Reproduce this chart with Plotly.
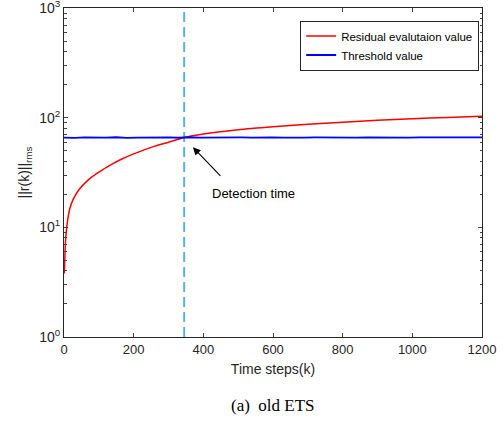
import plotly.graph_objects as go

# Residual evaluation value
k_res = [1, 3, 5, 8, 12, 18, 25, 32, 45, 60, 80, 100, 130, 166, 200, 261, 300, 345, 400, 500, 600, 700, 800, 900, 1000, 1100, 1200]
r_res = [3.8, 6.0, 8.0, 10.1, 12.5, 15.3, 17.6, 19.5, 22.5, 25.3, 28.8, 31.8, 36.5, 42.0, 46.8, 55.0, 59.8, 66.0, 71.0, 77.5, 82.5, 87.0, 91.0, 94.5, 98.0, 100.5, 103.0]

# Threshold value
k_thr = [0, 30, 60, 90, 120, 150, 180, 210, 240, 270, 300, 330, 360, 390, 420, 450, 480, 510, 540, 570, 600, 630, 660, 690, 720, 750, 780, 810, 840, 870, 900, 930, 960, 990, 1020, 1050, 1080, 1110, 1140, 1170, 1200]
r_thr = [65.8, 65.4, 66.1, 65.6, 65.9, 66.3, 65.5, 65.9, 66.2, 65.7, 66.0, 65.6, 66.3, 65.9, 66.1, 65.7, 66.2, 66.0, 65.8, 66.3, 66.0, 65.7, 66.2, 65.9, 66.1, 65.8, 66.3, 66.0, 65.7, 66.2, 65.9, 66.0, 66.3, 65.8, 66.1, 65.9, 66.2, 66.0, 65.8, 66.1, 66.0]

detect_k = [345]
y_ticks = [1, 10, 100, 1000]
y_ticktext = ["10<sup>0</sup>", "10<sup>1</sup>", "10<sup>2</sup>", "10<sup>3</sup>"]
x_ticks = [0, 200, 400, 600, 800, 1000, 1200]

font = "Liberation Sans, Arial, sans-serif"

fig = go.Figure()
fig.add_trace(go.Scatter(x=[detect_k[0], detect_k[0]], y=[1, 1000], mode="lines",
                         line=dict(color="#5DB0E3", width=2, dash="10px,5px"),
                         showlegend=False, hoverinfo="skip"))
fig.add_trace(go.Scatter(x=k_res, y=r_res, mode="lines", name="Residual evalutaion value",
                         line=dict(color="#FF0000", width=1.5, shape="spline", smoothing=0.6)))
fig.add_trace(go.Scatter(x=k_thr, y=r_thr, mode="lines", name="Threshold value",
                         line=dict(color="#0000FF", width=1.8)))

fig.add_annotation(x=370, y=1.73, xref="x", yref="y",
                   ax=29, ay=30,
                   text="", showarrow=True, arrowhead=2, arrowsize=1.4, arrowwidth=1.1,
                   arrowcolor="black")
fig.add_annotation(x=543, y=1.313, xref="x", yref="y", text="Detection time",
                   showarrow=False, font=dict(family=font, size=13, color="black"))
fig.add_annotation(x=0.5, y=-0.172, xref="paper", yref="paper", yanchor="top",
                   text="(a)  old ETS", showarrow=False,
                   font=dict(family="Liberation Serif, Times New Roman, serif", size=17, color="black"))

fig.update_layout(
    width=503, height=422,
    margin=dict(l=64, r=21, t=8, b=85, autoexpand=False),
    paper_bgcolor="white", plot_bgcolor="white",
    font=dict(family=font, size=12, color="#262626"),
    legend=dict(x=0.565, y=0.962, xanchor="left", yanchor="top",
                bgcolor="white", bordercolor="#262626", borderwidth=1,
                font=dict(family=font, size=11.5, color="black"),
                tracegroupgap=0, itemwidth=30),
    showlegend=True,
)
fig.update_xaxes(range=[0, 1200], tickvals=x_ticks, ticks="inside", ticklen=4,
                 showline=True, linecolor="#262626", linewidth=1, mirror="ticks",
                 showgrid=False, zeroline=False, automargin=False,
                 title=dict(text="Time steps(k)", font=dict(size=14, color="#262626"), standoff=8),
                 tickfont=dict(size=13, color="#262626"))
fig.update_yaxes(type="log", range=[0, 3.0001], tickvals=y_ticks, ticktext=y_ticktext,
                 ticks="inside", ticklen=4, ticklabeloverflow="allow", automargin=False,
                 minor=dict(ticks="inside", ticklen=2.5, tickvals=[m * d for d in [1, 10, 100] for m in range(2, 10)], showgrid=False),
                 showline=True, linecolor="#262626", linewidth=1, mirror="ticks",
                 showgrid=False, zeroline=False,
                 title=dict(text="||r(k)||<sub>rms</sub>", font=dict(size=14, color="#262626"), standoff=6),
                 tickfont=dict(size=14, color="#262626"))

fig.write_html("out.html")
